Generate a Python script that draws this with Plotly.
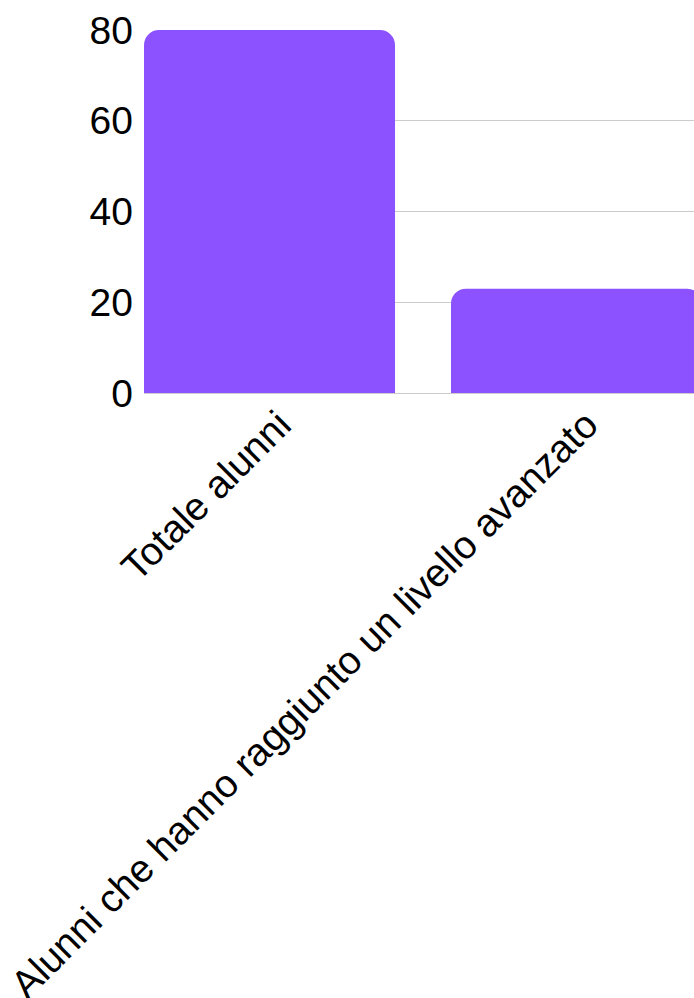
import plotly.graph_objects as go

categories = ["Totale alunni", "Alunni che hanno raggiunto un livello avanzato"]
values = [80, 23]
y_ticks = [0, 20, 40, 60, 80]

fig = go.Figure(go.Bar(
    x=[0, 1], y=values,
    marker=dict(color="#8C52FF", line=dict(width=0)),
    width=0.8176,
    hoverinfo="skip",
))

fig.update_layout(
    width=694, height=998,
    margin=dict(l=144, r=0, t=30, b=605, autoexpand=False),
    paper_bgcolor="white", plot_bgcolor="white",
    barcornerradius=15,
    showlegend=False,
    font=dict(family="Liberation Sans, Arial, sans-serif", color="black", size=38),
    xaxis=dict(
        tickmode="array", tickvals=[0, 1], ticktext=categories,
        range=[-0.4088, 1.3827], tickangle=-45, automargin=False,
        showgrid=False, zeroline=False, showline=False, ticks="",
        tickfont=dict(size=39.2), ticklabeloverflow="allow",
        ticklabelshift=10,
    ),
    yaxis=dict(
        range=[0, 80], tickvals=y_ticks, automargin=False,
        showgrid=True, gridcolor="#cccccc", gridwidth=1,
        zeroline=True, zerolinecolor="#cccccc", zerolinewidth=1,
        showline=False, ticks="", ticklabelstandoff=10,
        tickfont=dict(size=39),
    ),
)

fig.write_html(
    "out.html",
    config={"displayModeBar": False},
    post_script="document.body.style.margin='0';document.body.style.overflow='hidden';",
)
